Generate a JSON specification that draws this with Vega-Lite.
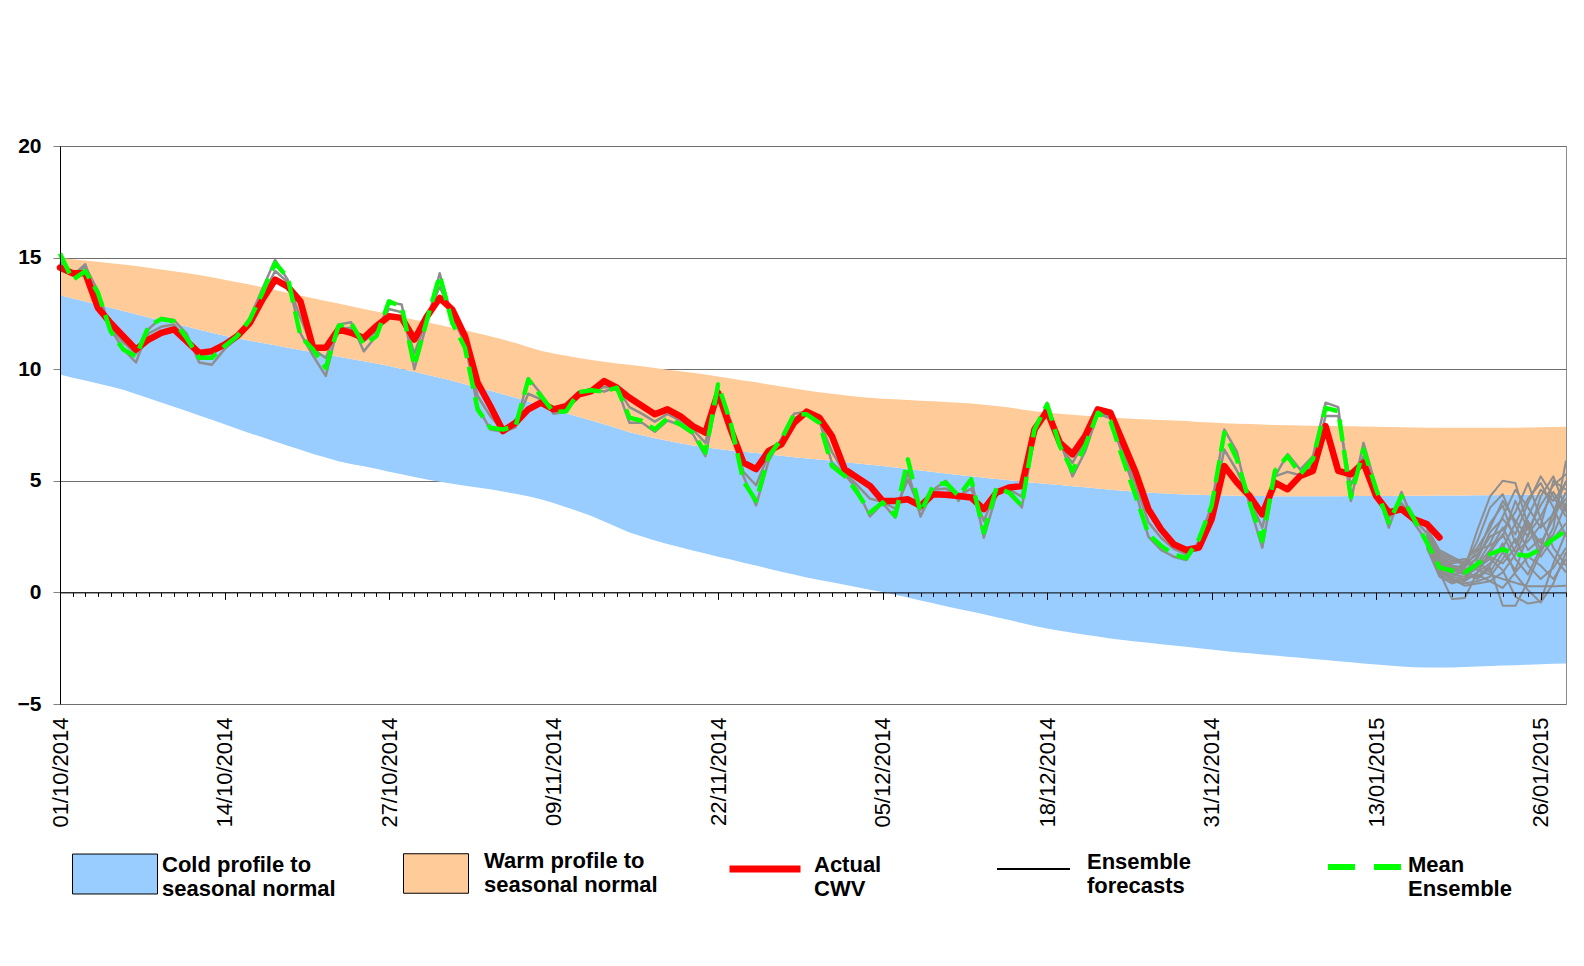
{
  "$schema": "https://vega.github.io/schema/vega-lite/v6.json",
  "width": 1506,
  "height": 558,
  "autosize": {"type": "none"},
  "padding": {"left": 60, "top": 146, "right": 18, "bottom": 262},
  "background": "white",
  "config": {
    "font": "Liberation Sans",
    "view": {"stroke": "#8c8c8c", "strokeWidth": 1},
    "legend": {"padding": 0}
  },
  "datasets": {
    "main": [
      {"date":"2014-10-01","cold":9.76,"normal":13.31,"warm":14.98,"actual":14.55,"mean":15.18,"h1":15.1,"h2":14.8},
      {"date":"2014-10-02","cold":9.62,"normal":13.17,"warm":14.93,"actual":14.3,"mean":14.0,"h1":14.2,"h2":14.2},
      {"date":"2014-10-03","cold":9.49,"normal":13.03,"warm":14.87,"actual":14.3,"mean":14.39,"h1":14.6,"h2":14.7},
      {"date":"2014-10-04","cold":9.36,"normal":12.89,"warm":14.81,"actual":12.75,"mean":13.42,"h1":13.5,"h2":13.1},
      {"date":"2014-10-05","cold":9.22,"normal":12.75,"warm":14.75,"actual":12.07,"mean":11.7,"h1":11.8,"h2":11.9},
      {"date":"2014-10-06","cold":9.08,"normal":12.61,"warm":14.69,"actual":11.48,"mean":10.88,"h1":10.9,"h2":11.2},
      {"date":"2014-10-07","cold":8.89,"normal":12.46,"warm":14.62,"actual":10.88,"mean":10.58,"h1":10.3,"h2":10.7},
      {"date":"2014-10-08","cold":8.7,"normal":12.32,"warm":14.55,"actual":11.33,"mean":11.93,"h1":11.8,"h2":11.6},
      {"date":"2014-10-09","cold":8.51,"normal":12.18,"warm":14.47,"actual":11.63,"mean":12.25,"h1":12.3,"h2":11.9},
      {"date":"2014-10-10","cold":8.32,"normal":12.04,"warm":14.39,"actual":11.78,"mean":12.15,"h1":12.2,"h2":12.0},
      {"date":"2014-10-11","cold":8.13,"normal":11.91,"warm":14.31,"actual":11.26,"mean":11.4,"h1":11.6,"h2":11.3},
      {"date":"2014-10-12","cold":7.93,"normal":11.77,"warm":14.22,"actual":10.73,"mean":10.51,"h1":10.3,"h2":10.6},
      {"date":"2014-10-13","cold":7.73,"normal":11.63,"warm":14.12,"actual":10.81,"mean":10.51,"h1":10.2,"h2":10.7},
      {"date":"2014-10-14","cold":7.53,"normal":11.5,"warm":14.01,"actual":11.1,"mean":11.03,"h1":10.9,"h2":11.1},
      {"date":"2014-10-15","cold":7.33,"normal":11.39,"warm":13.9,"actual":11.48,"mean":11.48,"h1":11.4,"h2":11.5},
      {"date":"2014-10-16","cold":7.13,"normal":11.28,"warm":13.79,"actual":12.07,"mean":12.22,"h1":12.3,"h2":12.15},
      {"date":"2014-10-17","cold":6.95,"normal":11.17,"warm":13.67,"actual":13.12,"mean":13.42,"h1":13.6,"h2":13.3},
      {"date":"2014-10-18","cold":6.76,"normal":11.07,"warm":13.55,"actual":14.01,"mean":14.76,"h1":14.9,"h2":14.4},
      {"date":"2014-10-19","cold":6.57,"normal":10.96,"warm":13.42,"actual":13.7,"mean":14.09,"h1":14.0,"h2":13.9},
      {"date":"2014-10-20","cold":6.39,"normal":10.86,"warm":13.3,"actual":13.04,"mean":11.48,"h1":11.6,"h2":12.3},
      {"date":"2014-10-21","cold":6.2,"normal":10.76,"warm":13.18,"actual":10.96,"mean":10.88,"h1":10.6,"h2":10.9},
      {"date":"2014-10-22","cold":6.04,"normal":10.66,"warm":13.06,"actual":10.96,"mean":10.06,"h1":9.7,"h2":10.5},
      {"date":"2014-10-23","cold":5.88,"normal":10.56,"warm":12.94,"actual":11.78,"mean":11.93,"h1":12.0,"h2":11.85},
      {"date":"2014-10-24","cold":5.75,"normal":10.46,"warm":12.82,"actual":11.63,"mean":12.07,"h1":12.1,"h2":11.85},
      {"date":"2014-10-25","cold":5.65,"normal":10.36,"warm":12.7,"actual":11.4,"mean":11.1,"h1":10.8,"h2":11.25},
      {"date":"2014-10-26","cold":5.54,"normal":10.25,"warm":12.58,"actual":11.93,"mean":11.48,"h1":11.5,"h2":11.7},
      {"date":"2014-10-27","cold":5.41,"normal":10.14,"warm":12.46,"actual":12.37,"mean":13.04,"h1":13.0,"h2":12.7},
      {"date":"2014-10-28","cold":5.29,"normal":10.01,"warm":12.34,"actual":12.3,"mean":12.79,"h1":12.9,"h2":12.55},
      {"date":"2014-10-29","cold":5.17,"normal":9.89,"warm":12.22,"actual":11.33,"mean":10.14,"h1":10.0,"h2":10.7},
      {"date":"2014-10-30","cold":5.06,"normal":9.75,"warm":12.1,"actual":12.37,"mean":12.22,"h1":12.1,"h2":12.3},
      {"date":"2014-10-31","cold":4.96,"normal":9.62,"warm":11.98,"actual":13.19,"mean":14.2,"h1":14.3,"h2":13.7},
      {"date":"2014-11-01","cold":4.87,"normal":9.48,"warm":11.86,"actual":12.67,"mean":12.07,"h1":12.3,"h2":12.4},
      {"date":"2014-11-02","cold":4.78,"normal":9.33,"warm":11.74,"actual":11.48,"mean":10.96,"h1":11.2,"h2":11.2},
      {"date":"2014-11-03","cold":4.7,"normal":9.18,"warm":11.61,"actual":9.39,"mean":8.2,"h1":8.3,"h2":8.8},
      {"date":"2014-11-04","cold":4.62,"normal":9.03,"warm":11.48,"actual":8.35,"mean":7.38,"h1":7.3,"h2":7.9},
      {"date":"2014-11-05","cold":4.52,"normal":8.88,"warm":11.33,"actual":7.23,"mean":7.3,"h1":7.2,"h2":7.25},
      {"date":"2014-11-06","cold":4.42,"normal":8.72,"warm":11.17,"actual":7.6,"mean":7.45,"h1":7.4,"h2":7.5},
      {"date":"2014-11-07","cold":4.31,"normal":8.55,"warm":11.0,"actual":8.2,"mean":9.54,"h1":9.6,"h2":8.9},
      {"date":"2014-11-08","cold":4.17,"normal":8.38,"warm":10.83,"actual":8.5,"mean":8.8,"h1":8.9,"h2":8.65},
      {"date":"2014-11-09","cold":4.0,"normal":8.2,"warm":10.7,"actual":8.2,"mean":8.08,"h1":8.0,"h2":8.15},
      {"date":"2014-11-10","cold":3.82,"normal":8.03,"warm":10.6,"actual":8.35,"mean":8.12,"h1":8.1,"h2":8.2},
      {"date":"2014-11-11","cold":3.63,"normal":7.86,"warm":10.5,"actual":8.87,"mean":8.97,"h1":9.0,"h2":8.9},
      {"date":"2014-11-12","cold":3.42,"normal":7.7,"warm":10.41,"actual":9.02,"mean":9.06,"h1":9.1,"h2":9.05},
      {"date":"2014-11-13","cold":3.18,"normal":7.53,"warm":10.33,"actual":9.47,"mean":8.99,"h1":9.0,"h2":9.2},
      {"date":"2014-11-14","cold":2.93,"normal":7.35,"warm":10.26,"actual":9.17,"mean":9.17,"h1":9.2,"h2":9.17},
      {"date":"2014-11-15","cold":2.68,"normal":7.17,"warm":10.2,"actual":8.72,"mean":7.83,"h1":7.6,"h2":8.3},
      {"date":"2014-11-16","cold":2.5,"normal":7.04,"warm":10.13,"actual":8.35,"mean":7.68,"h1":7.6,"h2":8.0},
      {"date":"2014-11-17","cold":2.33,"normal":6.91,"warm":10.05,"actual":7.98,"mean":7.3,"h1":7.2,"h2":7.65},
      {"date":"2014-11-18","cold":2.17,"normal":6.79,"warm":9.98,"actual":8.2,"mean":7.8,"h1":7.7,"h2":8.0},
      {"date":"2014-11-19","cold":2.02,"normal":6.68,"warm":9.91,"actual":7.9,"mean":7.53,"h1":7.5,"h2":7.7},
      {"date":"2014-11-20","cold":1.88,"normal":6.58,"warm":9.84,"actual":7.45,"mean":7.16,"h1":7.1,"h2":7.3},
      {"date":"2014-11-21","cold":1.74,"normal":6.5,"warm":9.76,"actual":7.16,"mean":6.26,"h1":6.1,"h2":6.7},
      {"date":"2014-11-22","cold":1.6,"normal":6.43,"warm":9.67,"actual":8.94,"mean":9.32,"h1":9.0,"h2":9.1},
      {"date":"2014-11-23","cold":1.47,"normal":6.36,"warm":9.58,"actual":7.3,"mean":7.6,"h1":7.7,"h2":7.45},
      {"date":"2014-11-24","cold":1.33,"normal":6.3,"warm":9.49,"actual":5.81,"mean":4.99,"h1":5.2,"h2":5.4},
      {"date":"2014-11-25","cold":1.2,"normal":6.24,"warm":9.41,"actual":5.52,"mean":4.1,"h1":3.9,"h2":4.8},
      {"date":"2014-11-26","cold":1.06,"normal":6.18,"warm":9.32,"actual":6.34,"mean":6.11,"h1":5.9,"h2":6.2},
      {"date":"2014-11-27","cold":0.93,"normal":6.12,"warm":9.23,"actual":6.63,"mean":6.86,"h1":6.9,"h2":6.75},
      {"date":"2014-11-28","cold":0.8,"normal":6.06,"warm":9.14,"actual":7.6,"mean":7.98,"h1":8.0,"h2":7.8},
      {"date":"2014-11-29","cold":0.67,"normal":6.0,"warm":9.05,"actual":8.1,"mean":7.98,"h1":8.1,"h2":8.05},
      {"date":"2014-11-30","cold":0.56,"normal":5.95,"warm":8.97,"actual":7.83,"mean":7.6,"h1":7.7,"h2":7.7},
      {"date":"2014-12-01","cold":0.45,"normal":5.9,"warm":8.9,"actual":7.0,"mean":5.66,"h1":5.8,"h2":6.3},
      {"date":"2014-12-02","cold":0.34,"normal":5.84,"warm":8.83,"actual":5.52,"mean":5.22,"h1":5.3,"h2":5.35},
      {"date":"2014-12-03","cold":0.23,"normal":5.78,"warm":8.77,"actual":5.14,"mean":4.47,"h1":4.6,"h2":4.8},
      {"date":"2014-12-04","cold":0.12,"normal":5.72,"warm":8.72,"actual":4.77,"mean":3.58,"h1":3.4,"h2":4.2},
      {"date":"2014-12-05","cold":0.02,"normal":5.66,"warm":8.68,"actual":4.1,"mean":4.03,"h1":4.0,"h2":4.05},
      {"date":"2014-12-06","cold":-0.1,"normal":5.6,"warm":8.65,"actual":4.1,"mean":3.43,"h1":3.35,"h2":3.75},
      {"date":"2014-12-07","cold":-0.23,"normal":5.53,"warm":8.62,"actual":4.17,"mean":5.96,"h1":5.4,"h2":5.05},
      {"date":"2014-12-08","cold":-0.36,"normal":5.46,"warm":8.59,"actual":3.88,"mean":3.58,"h1":3.4,"h2":3.7},
      {"date":"2014-12-09","cold":-0.49,"normal":5.39,"warm":8.56,"actual":4.4,"mean":4.77,"h1":4.6,"h2":4.6},
      {"date":"2014-12-10","cold":-0.62,"normal":5.33,"warm":8.53,"actual":4.37,"mean":4.92,"h1":5.0,"h2":4.65},
      {"date":"2014-12-11","cold":-0.74,"normal":5.26,"warm":8.5,"actual":4.32,"mean":4.32,"h1":4.1,"h2":4.32},
      {"date":"2014-12-12","cold":-0.86,"normal":5.2,"warm":8.46,"actual":4.25,"mean":5.07,"h1":5.1,"h2":4.65},
      {"date":"2014-12-13","cold":-0.98,"normal":5.14,"warm":8.41,"actual":3.73,"mean":2.68,"h1":2.45,"h2":3.2},
      {"date":"2014-12-14","cold":-1.11,"normal":5.08,"warm":8.35,"actual":4.47,"mean":4.7,"h1":4.4,"h2":4.6},
      {"date":"2014-12-15","cold":-1.24,"normal":5.02,"warm":8.28,"actual":4.7,"mean":4.47,"h1":4.6,"h2":4.6},
      {"date":"2014-12-16","cold":-1.37,"normal":4.96,"warm":8.2,"actual":4.77,"mean":3.88,"h1":3.8,"h2":4.3},
      {"date":"2014-12-17","cold":-1.5,"normal":4.91,"warm":8.12,"actual":7.3,"mean":7.3,"h1":7.0,"h2":7.3},
      {"date":"2014-12-18","cold":-1.62,"normal":4.86,"warm":8.06,"actual":8.12,"mean":8.42,"h1":8.5,"h2":8.3},
      {"date":"2014-12-19","cold":-1.72,"normal":4.81,"warm":8.0,"actual":6.71,"mean":6.56,"h1":6.8,"h2":6.6},
      {"date":"2014-12-20","cold":-1.81,"normal":4.76,"warm":7.96,"actual":6.19,"mean":5.44,"h1":5.2,"h2":5.8},
      {"date":"2014-12-21","cold":-1.9,"normal":4.71,"warm":7.92,"actual":7.0,"mean":6.56,"h1":6.3,"h2":6.8},
      {"date":"2014-12-22","cold":-1.98,"normal":4.65,"warm":7.88,"actual":8.2,"mean":8.05,"h1":8.0,"h2":8.1},
      {"date":"2014-12-23","cold":-2.06,"normal":4.6,"warm":7.84,"actual":8.05,"mean":7.68,"h1":7.8,"h2":7.85},
      {"date":"2014-12-24","cold":-2.13,"normal":4.55,"warm":7.8,"actual":6.71,"mean":5.96,"h1":6.1,"h2":6.3},
      {"date":"2014-12-25","cold":-2.2,"normal":4.51,"warm":7.77,"actual":5.37,"mean":4.32,"h1":4.5,"h2":4.85},
      {"date":"2014-12-26","cold":-2.26,"normal":4.47,"warm":7.75,"actual":3.73,"mean":2.61,"h1":2.5,"h2":3.15},
      {"date":"2014-12-27","cold":-2.32,"normal":4.44,"warm":7.72,"actual":2.83,"mean":2.09,"h1":1.9,"h2":2.45},
      {"date":"2014-12-28","cold":-2.38,"normal":4.41,"warm":7.7,"actual":2.16,"mean":1.71,"h1":1.6,"h2":1.95},
      {"date":"2014-12-29","cold":-2.44,"normal":4.39,"warm":7.68,"actual":1.9,"mean":1.53,"h1":1.45,"h2":1.7},
      {"date":"2014-12-30","cold":-2.5,"normal":4.37,"warm":7.64,"actual":2.01,"mean":2.39,"h1":2.3,"h2":2.2},
      {"date":"2014-12-31","cold":-2.56,"normal":4.35,"warm":7.61,"actual":3.28,"mean":3.88,"h1":3.9,"h2":3.6},
      {"date":"2015-01-01","cold":-2.62,"normal":4.34,"warm":7.58,"actual":5.66,"mean":7.16,"h1":7.3,"h2":6.4},
      {"date":"2015-01-02","cold":-2.68,"normal":4.33,"warm":7.56,"actual":4.92,"mean":5.96,"h1":6.3,"h2":5.45},
      {"date":"2015-01-03","cold":-2.73,"normal":4.32,"warm":7.54,"actual":4.32,"mean":4.03,"h1":3.9,"h2":4.2},
      {"date":"2015-01-04","cold":-2.78,"normal":4.32,"warm":7.52,"actual":3.5,"mean":2.31,"h1":2.0,"h2":2.9},
      {"date":"2015-01-05","cold":-2.83,"normal":4.31,"warm":7.5,"actual":4.92,"mean":5.44,"h1":5.2,"h2":5.2},
      {"date":"2015-01-06","cold":-2.88,"normal":4.31,"warm":7.49,"actual":4.62,"mean":6.11,"h1":6.2,"h2":5.4},
      {"date":"2015-01-07","cold":-2.93,"normal":4.31,"warm":7.48,"actual":5.22,"mean":5.29,"h1":5.5,"h2":5.25},
      {"date":"2015-01-08","cold":-2.98,"normal":4.31,"warm":7.47,"actual":5.44,"mean":5.96,"h1":6.1,"h2":5.7},
      {"date":"2015-01-09","cold":-3.03,"normal":4.31,"warm":7.46,"actual":7.45,"mean":8.27,"h1":8.5,"h2":7.9},
      {"date":"2015-01-10","cold":-3.08,"normal":4.31,"warm":7.45,"actual":5.44,"mean":8.12,"h1":8.3,"h2":7.9},
      {"date":"2015-01-11","cold":-3.13,"normal":4.32,"warm":7.44,"actual":5.29,"mean":4.25,"h1":4.1,"h2":4.8},
      {"date":"2015-01-12","cold":-3.18,"normal":4.32,"warm":7.43,"actual":5.81,"mean":6.41,"h1":6.7,"h2":6.1},
      {"date":"2015-01-13","cold":-3.23,"normal":4.32,"warm":7.42,"actual":4.32,"mean":4.62,"h1":4.7,"h2":4.45},
      {"date":"2015-01-14","cold":-3.28,"normal":4.32,"warm":7.41,"actual":3.58,"mean":3.13,"h1":2.9,"h2":3.35},
      {"date":"2015-01-15","cold":-3.32,"normal":4.33,"warm":7.4,"actual":3.73,"mean":4.32,"h1":4.5,"h2":4.0},
      {"date":"2015-01-16","cold":-3.35,"normal":4.33,"warm":7.39,"actual":3.28,"mean":3.28,"h1":3.1,"h2":3.28},
      {"date":"2015-01-17","cold":-3.37,"normal":4.33,"warm":7.38,"actual":3.06,"mean":2.24,"h1":2.3,"h2":2.65},
      {"date":"2015-01-18","cold":-3.37,"normal":4.34,"warm":7.38,"actual":2.46,"mean":1.12,"h1":null,"h2":null},
      {"date":"2015-01-19","cold":-3.36,"normal":4.34,"warm":7.38,"actual":null,"mean":0.97,"h1":null,"h2":null},
      {"date":"2015-01-20","cold":-3.34,"normal":4.34,"warm":7.38,"actual":null,"mean":0.89,"h1":null,"h2":null},
      {"date":"2015-01-21","cold":-3.32,"normal":4.35,"warm":7.38,"actual":null,"mean":1.27,"h1":null,"h2":null},
      {"date":"2015-01-22","cold":-3.3,"normal":4.35,"warm":7.38,"actual":null,"mean":1.71,"h1":null,"h2":null},
      {"date":"2015-01-23","cold":-3.28,"normal":4.36,"warm":7.38,"actual":null,"mean":1.94,"h1":null,"h2":null},
      {"date":"2015-01-24","cold":-3.26,"normal":4.37,"warm":7.38,"actual":null,"mean":1.71,"h1":null,"h2":null},
      {"date":"2015-01-25","cold":-3.24,"normal":4.38,"warm":7.39,"actual":null,"mean":1.64,"h1":null,"h2":null},
      {"date":"2015-01-26","cold":-3.22,"normal":4.38,"warm":7.4,"actual":null,"mean":1.94,"h1":null,"h2":null},
      {"date":"2015-01-27","cold":-3.2,"normal":4.39,"warm":7.41,"actual":null,"mean":2.39,"h1":null,"h2":null},
      {"date":"2015-01-28","cold":-3.18,"normal":4.4,"warm":7.42,"actual":null,"mean":2.76,"h1":null,"h2":null}
    ],
    "fc": [
      {"date":"2015-01-17","f1":2.6,"f2":2.4,"f3":2.2,"f4":2.8,"f5":2.3,"f6":2.5,"f7":2.7,"f8":2.1,"f9":2.9,"f10":2.4,"f11":2.6,"f12":2.2,"f13":2.5,"f14":2.3,"f15":2.7,"f16":2.0,"f17":2.8,"f18":2.4,"f19":2.6,"f20":2.5},
      {"date":"2015-01-18","f1":1.5,"f2":1.2,"f3":0.9,"f4":1.7,"f5":1.0,"f6":1.3,"f7":1.6,"f8":0.8,"f9":1.9,"f10":1.1,"f11":1.4,"f12":1.0,"f13":1.2,"f14":0.9,"f15":1.5,"f16":0.7,"f17":1.8,"f18":1.2,"f19":1.4,"f20":1.3},
      {"date":"2015-01-19","f1":1.2,"f2":0.9,"f3":-0.3,"f4":1.4,"f5":0.6,"f6":1.0,"f7":1.3,"f8":0.5,"f9":1.6,"f10":0.8,"f11":1.1,"f12":0.7,"f13":0.9,"f14":0.6,"f15":1.2,"f16":0.4,"f17":1.5,"f18":0.8,"f19":1.0,"f20":1.1},
      {"date":"2015-01-20","f1":1.0,"f2":1.1,"f3":-0.25,"f4":1.5,"f5":0.5,"f6":0.8,"f7":1.4,"f8":0.4,"f9":1.3,"f10":0.7,"f11":0.9,"f12":0.6,"f13":1.2,"f14":0.3,"f15":1.1,"f16":0.6,"f17":1.2,"f18":0.9,"f19":1.3,"f20":0.9},
      {"date":"2015-01-21","f1":1.3,"f2":2.8,"f3":0.9,"f4":1.0,"f5":0.9,"f6":0.6,"f7":2.0,"f8":0.5,"f9":1.7,"f10":1.1,"f11":1.6,"f12":1.4,"f13":2.3,"f14":0.4,"f15":1.9,"f16":0.8,"f17":1.5,"f18":0.7,"f19":1.2,"f20":1.2},
      {"date":"2015-01-22","f1":2.2,"f2":4.3,"f3":1.8,"f4":0.8,"f5":1.3,"f6":1.1,"f7":2.9,"f8":0.7,"f9":3.1,"f10":1.5,"f11":2.5,"f12":0.9,"f13":3.8,"f14":0.5,"f15":2.1,"f16":0.5,"f17":2.7,"f18":1.2,"f19":1.6,"f20":1.9},
      {"date":"2015-01-23","f1":3.4,"f2":5.0,"f3":2.6,"f4":0.6,"f5":2.0,"f6":-0.6,"f7":4.1,"f8":1.5,"f9":3.9,"f10":1.0,"f11":2.8,"f12":1.8,"f13":4.4,"f14":0.9,"f15":2.5,"f16":0.2,"f17":3.3,"f18":2.2,"f19":1.3,"f20":2.9},
      {"date":"2015-01-24","f1":4.6,"f2":4.9,"f3":1.5,"f4":0.43,"f5":3.1,"f6":-0.6,"f7":3.2,"f8":2.4,"f9":2.2,"f10":-0.2,"f11":3.6,"f12":1.0,"f13":3.0,"f14":1.7,"f15":4.1,"f16":0.9,"f17":2.6,"f18":0.8,"f19":2.0,"f20":1.8},
      {"date":"2015-01-25","f1":3.8,"f2":3.0,"f3":0.8,"f4":0.27,"f5":4.2,"f6":0.5,"f7":2.5,"f8":1.2,"f9":3.4,"f10":-0.5,"f11":4.9,"f12":2.6,"f13":1.9,"f14":3.0,"f15":2.8,"f16":1.6,"f17":4.0,"f18":0.1,"f19":3.2,"f20":2.3},
      {"date":"2015-01-26","f1":2.9,"f2":1.6,"f3":2.0,"f4":0.27,"f5":4.9,"f6":1.8,"f7":4.3,"f8":0.6,"f9":4.6,"f10":-0.4,"f11":3.3,"f12":3.4,"f13":2.4,"f14":2.2,"f15":3.9,"f16":1.2,"f17":5.2,"f18":-0.45,"f19":1.9,"f20":3.0},
      {"date":"2015-01-27","f1":3.5,"f2":2.4,"f3":3.6,"f4":0.27,"f5":3.8,"f6":2.9,"f7":5.2,"f8":1.1,"f9":4.1,"f10":1.3,"f11":2.0,"f12":4.5,"f13":1.6,"f14":3.3,"f15":4.8,"f16":0.6,"f17":4.3,"f18":0.4,"f19":2.6,"f20":5.0},
      {"date":"2015-01-28","f1":4.2,"f2":3.1,"f3":5.0,"f4":0.3,"f5":2.5,"f6":5.9,"f7":3.7,"f8":2.0,"f9":4.9,"f10":2.7,"f11":1.2,"f12":3.6,"f13":0.9,"f14":4.5,"f15":5.3,"f16":1.5,"f17":3.4,"f18":1.8,"f19":4.0,"f20":4.6}
    ]
  },
  "resolve": {
    "scale": {"fill": "independent", "stroke": "independent"},
    "legend": {"fill": "independent", "stroke": "independent"},
    "axis": {"x": "independent", "y": "independent"}
  },
  "layer": [
    {
      "data": {"name": "main"},
      "mark": {"type": "area", "fill": "#99CCFF"},
      "encoding": {
        "x": {"field": "date", "type": "temporal",
          "scale": {"type": "utc", "domain": [{"year":2014,"month":10,"date":1,"utc":true},{"year":2015,"month":1,"date":28,"utc":true}], "nice": false},
          "axis": {"orient": "bottom", "title": null, "domain": false, "ticks": false, "grid": false,
            "values": [{"year":2014,"month":10,"date":1,"utc":true},{"year":2014,"month":10,"date":14,"utc":true},{"year":2014,"month":10,"date":27,"utc":true},{"year":2014,"month":11,"date":9,"utc":true},{"year":2014,"month":11,"date":22,"utc":true},{"year":2014,"month":12,"date":5,"utc":true},{"year":2014,"month":12,"date":18,"utc":true},{"year":2014,"month":12,"date":31,"utc":true},{"year":2015,"month":1,"date":13,"utc":true},{"year":2015,"month":1,"date":26,"utc":true}],
            "format": "%d/%m/%Y", "labelAngle": 270, "labelAlign": "right", "labelBaseline": "middle",
            "labelPadding": 13, "labelFont": "Liberation Sans", "labelFontSize": 22, "labelColor": "#000000",
            "labelOverlap": false, "labelFlush": false, "labelBound": false, "zindex": 0}},
        "y": {"field": "cold", "type": "quantitative",
          "scale": {"domain": [-5, 20], "nice": false, "zero": false},
          "axis": {"orient": "left", "title": null, "values": [-5, 0, 5, 10, 15, 20], "grid": true,
            "gridColor": "#6e6e6e", "gridWidth": 1, "domain": false, "ticks": false, "labels": false, "zindex": 0}},
        "y2": {"field": "normal"},
        "fill": {"datum": "Cold", "type": "nominal", "scale": {"range": ["#99CCFF"]},
          "legend": {"orient": "none", "legendX": 12, "legendY": 676, "title": null, "padding": 0,
            "symbolType": "M-1,-0.258H1V0.682H-1Z", "symbolSize": 7225,
            "symbolStrokeColor": "#000000", "symbolStrokeWidth": 1,
            "labelExpr": "['Cold profile to', 'seasonal normal']",
            "labelFont": "Liberation Sans", "labelFontSize": 22, "labelFontWeight": "bold", "labelColor": "#000000",
            "labelOffset": 4, "labelLimit": 400}}
      }
    },
    {
      "data": {"name": "main"},
      "mark": {"type": "area", "fill": "#FFCC99"},
      "encoding": {
        "x": {"field": "date", "type": "temporal",
          "scale": {"type": "utc", "domain": [{"year":2014,"month":10,"date":1,"utc":true},{"year":2015,"month":1,"date":28,"utc":true}], "nice": false},
          "axis": {"orient": "bottom", "title": null, "offset": -111.6, "labels": false, "grid": false,
            "domain": true, "domainColor": "#000000", "domainWidth": 1,
            "ticks": true, "tickColor": "#000000", "tickSize": 7, "tickWidth": 1,
            "values": [{"year":2014,"month":10,"date":1,"utc":true},{"year":2014,"month":10,"date":14,"utc":true},{"year":2014,"month":10,"date":27,"utc":true},{"year":2014,"month":11,"date":9,"utc":true},{"year":2014,"month":11,"date":22,"utc":true},{"year":2014,"month":12,"date":5,"utc":true},{"year":2014,"month":12,"date":18,"utc":true},{"year":2014,"month":12,"date":31,"utc":true},{"year":2015,"month":1,"date":13,"utc":true},{"year":2015,"month":1,"date":26,"utc":true}],
            "zindex": 1}},
        "y": {"field": "normal", "type": "quantitative",
          "scale": {"domain": [-5, 20], "nice": false, "zero": false},
          "axis": {"orient": "left", "title": null, "values": [-5, 0, 5, 10, 15, 20], "grid": false,
            "domain": true, "domainColor": "#000000", "domainWidth": 1,
            "ticks": true, "tickColor": "#808080", "tickSize": 7, "tickWidth": 1,
            "labelFont": "Liberation Sans", "labelFontSize": 21, "labelFontWeight": "bold", "labelColor": "#000000",
            "labelPadding": 12, "zindex": 1}},
        "y2": {"field": "warm"},
        "fill": {"datum": "Warm", "type": "nominal", "scale": {"range": ["#FFCC99"]},
          "legend": {"orient": "none", "legendX": 343, "legendY": 681.5, "title": null, "padding": 0,
            "symbolType": "M-1,-0.208H1V1.008H-1Z", "symbolSize": 4225,
            "symbolStrokeColor": "#000000", "symbolStrokeWidth": 1,
            "labelExpr": "['Warm profile to', 'seasonal normal']",
            "labelFont": "Liberation Sans", "labelFontSize": 22, "labelFontWeight": "bold", "labelColor": "#000000",
            "labelOffset": 15, "labelLimit": 400}}
      }
    },
    {
      "data": {"name": "main"},
      "transform": [{"fold": ["h1", "h2"], "as": ["member", "value"]}],
      "mark": {"type": "line", "strokeWidth": 2.5, "strokeJoin": "round"},
      "encoding": {
        "x": {"field": "date", "type": "temporal",
          "scale": {"type": "utc", "domain": [{"year":2014,"month":10,"date":1,"utc":true},{"year":2015,"month":1,"date":28,"utc":true}], "nice": false},
          "axis": {"orient": "bottom", "title": null, "offset": -111.6, "labels": false, "grid": false, "domain": false,
            "ticks": true, "tickColor": "#000000", "tickSize": 4, "tickWidth": 1,
            "tickCount": {"interval": "day", "step": 1}, "zindex": 1}},
        "y": {"field": "value", "type": "quantitative", "scale": {"domain": [-5, 20], "nice": false, "zero": false}, "axis": null},
        "detail": {"field": "member", "type": "nominal"},
        "stroke": {"datum": "Ensemble history", "type": "nominal", "scale": {"range": ["#8e8e8e"]}, "legend": null}
      }
    },
    {
      "data": {"name": "fc"},
      "transform": [{"fold": ["f1","f2","f3","f4","f5","f6","f7","f8","f9","f10","f11","f12","f13","f14","f15","f16","f17","f18","f19","f20"], "as": ["member", "value"]}],
      "mark": {"type": "line", "stroke": "#8e8e8e", "strokeWidth": 2, "strokeJoin": "round"},
      "encoding": {
        "x": {"field": "date", "type": "temporal",
          "scale": {"type": "utc", "domain": [{"year":2014,"month":10,"date":1,"utc":true},{"year":2015,"month":1,"date":28,"utc":true}], "nice": false},
          "axis": null},
        "y": {"field": "value", "type": "quantitative", "scale": {"domain": [-5, 20], "nice": false, "zero": false}, "axis": null},
        "detail": {"field": "member", "type": "nominal"},
        "strokeDash": {"datum": "Ensemble", "type": "nominal", "scale": {"range": [[1, 0]]},
          "legend": {"orient": "none", "legendX": 936, "legendY": 678.5, "title": null, "padding": 0,
            "symbolType": "M-1,0.192L1,0.192", "symbolSize": 5329, "symbolStrokeWidth": 2,
            "symbolStrokeColor": "#000000",
            "labelExpr": "['Ensemble', 'forecasts']",
            "labelFont": "Liberation Sans", "labelFontSize": 22, "labelFontWeight": "bold", "labelColor": "#000000",
            "labelOffset": 16, "labelLimit": 400,
            "encode": {"symbols": {"update": {"stroke": {"value": "#000000"}, "strokeWidth": {"value": 2}}}}}}
      }
    },
    {
      "data": {"name": "main"},
      "mark": {"type": "line", "strokeWidth": 6.5, "strokeJoin": "round", "strokeCap": "round"},
      "encoding": {
        "x": {"field": "date", "type": "temporal",
          "scale": {"type": "utc", "domain": [{"year":2014,"month":10,"date":1,"utc":true},{"year":2015,"month":1,"date":28,"utc":true}], "nice": false},
          "axis": null},
        "y": {"field": "actual", "type": "quantitative", "scale": {"domain": [-5, 20], "nice": false, "zero": false}, "axis": null},
        "stroke": {"datum": "Actual", "type": "nominal", "scale": {"range": ["#FF0000"]},
          "legend": {"orient": "none", "legendX": 666, "legendY": 680, "title": null, "padding": 0,
            "symbolType": "M-1,0.113L1,0.113", "symbolSize": 5041, "symbolStrokeWidth": 7,
            "labelExpr": "['Actual', 'CWV']",
            "labelFont": "Liberation Sans", "labelFontSize": 22, "labelFontWeight": "bold", "labelColor": "#000000",
            "labelOffset": 10, "labelLimit": 400,
            "encode": {"symbols": {"update": {"strokeWidth": {"value": 7}, "strokeCap": {"value": "butt"}}}}}}
      }
    },
    {
      "data": {"name": "main"},
      "mark": {"type": "line", "strokeWidth": 4.5, "strokeJoin": "round", "strokeDash": [22, 9]},
      "encoding": {
        "x": {"field": "date", "type": "temporal",
          "scale": {"type": "utc", "domain": [{"year":2014,"month":10,"date":1,"utc":true},{"year":2015,"month":1,"date":28,"utc":true}], "nice": false},
          "axis": null},
        "y": {"field": "mean", "type": "quantitative", "scale": {"domain": [-5, 20], "nice": false, "zero": false}, "axis": null},
        "stroke": {"datum": "Mean", "type": "nominal", "scale": {"range": ["#00FF00"]},
          "legend": {"orient": "none", "legendX": 1265, "legendY": 679.5, "title": null, "padding": 0,
            "symbolType": "M-1,0.055L1,0.055", "symbolSize": 5329, "symbolStrokeWidth": 6, "symbolDash": [27, 19],
            "labelExpr": "['Mean', 'Ensemble']",
            "labelFont": "Liberation Sans", "labelFontSize": 22, "labelFontWeight": "bold", "labelColor": "#000000",
            "labelOffset": 4, "labelLimit": 400,
            "encode": {"symbols": {"update": {"strokeWidth": {"value": 6}, "strokeDash": {"value": [27, 19]}}}}}}
      }
    }
  ]
}
